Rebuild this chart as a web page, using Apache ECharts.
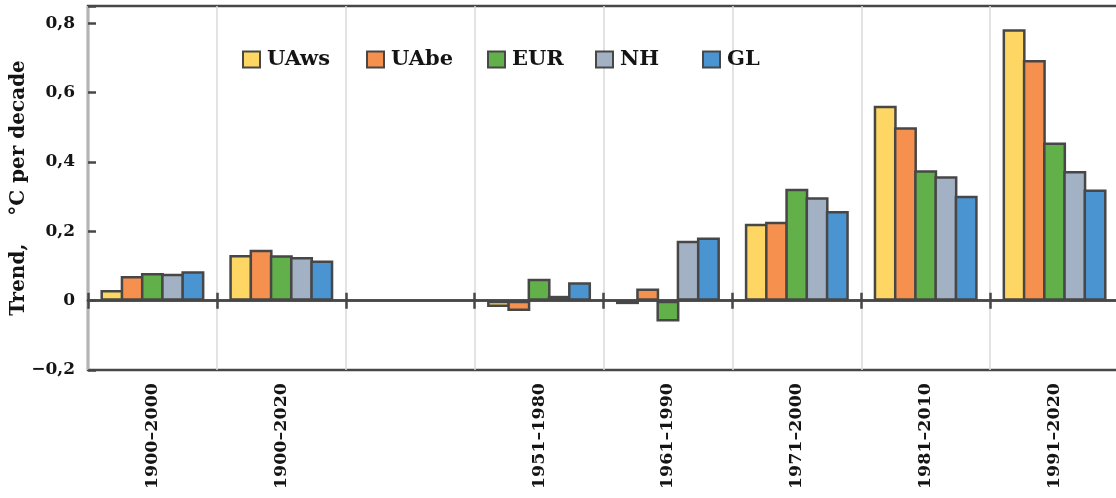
<!DOCTYPE html>
<html>
<head>
<meta charset="utf-8">
<script src="https://cdn.jsdelivr.net/npm/echarts@6/dist/echarts.min.js"></script>
<style>
html,body{margin:0;padding:0;background:#fff;}
#chart{width:1116px;height:498px;}
</style>
</head>
<body>
<div id="chart"></div>
<script>
const categories = ['1900–2000','1900–2020','','1951–1980','1961–1990','1971–2000','1981–2010','1991–2020'];
const seriesNames = ['UAws','UAbe','EUR','NH','GL'];
const UAws = [0.031, 0.132, null, -0.018, -0.010, 0.222, 0.562, 0.783];
const UAbe = [0.071, 0.147, null, -0.030, 0.035, 0.228, 0.500, 0.694];
const EUR  = [0.080, 0.131, null, 0.063, -0.060, 0.323, 0.376, 0.456];
const NH   = [0.078, 0.126, null, 0.014, 0.173, 0.298, 0.359, 0.374];
const GL   = [0.085, 0.116, null, 0.053, 0.182, 0.259, 0.303, 0.321];
const yTicks = [-0.2, 0, 0.2, 0.4, 0.6, 0.8];
const colors = ['#FDD663','#F6904F','#62B04A','#A2B2C4','#4A94D1'];
const legendLeft = [237, 361, 482, 590, 697];

const FONT = 'DejaVu Serif';
const DARK = '#474747';
const values = [UAws, UAbe, EUR, NH, GL];

function fmtY(v) {
  const hit = yTicks.find(t => Math.abs(t - v) < 1e-6);
  if (hit === undefined) return '';
  if (hit === 0) return '0';
  return hit.toFixed(1).replace('.', ',').replace('-', '\u2212');
}

const gridRect = {left: 88, right: -3, top: 6, bottom: 128, outerBoundsMode: 'none', containLabel: false};

const option = {
  animation: false,
  backgroundColor: '#fff',
  grid: [
    Object.assign({show: true, borderColor: DARK, borderWidth: 2.5, backgroundColor: 'transparent'}, gridRect),
    Object.assign({show: false}, gridRect)
  ],
  legend: seriesNames.map((n, i) => ({
    data: [n],
    left: legendLeft[i],
    top: 44,
    icon: 'rect',
    itemWidth: 17,
    itemHeight: 16,
    textStyle: {fontFamily: FONT, fontWeight: 'bold', fontSize: 21, color: '#141414', padding: [0, 0, 0, 2]},
    selectedMode: false
  })),
  xAxis: [
    {
      type: 'category', gridIndex: 0, data: categories, position: 'bottom',
      axisLine: {show: false, onZero: false},
      axisTick: {show: false},
      axisLabel: {rotate: 90, interval: 0, margin: 13, fontFamily: FONT, fontWeight: 'bold', fontSize: 17.5, color: '#141414'},
      splitLine: {show: true, interval: 0, lineStyle: {color: '#dadada', width: 1.5}}
    },
    {
      type: 'category', gridIndex: 0, data: categories, position: 'top',
      axisLine: {show: true, onZero: true, lineStyle: {color: DARK, width: 2.5}},
      axisTick: {show: true, interval: 0, length: 8, lineStyle: {color: DARK, width: 2.5}},
      axisLabel: {show: false},
      splitLine: {show: false}
    },
    {
      type: 'category', gridIndex: 1, data: categories, position: 'bottom',
      axisLine: {show: true, onZero: true, lineStyle: {color: DARK, width: 2.5}},
      axisTick: {show: true, interval: 0, length: 8, lineStyle: {color: DARK, width: 2.5}},
      axisLabel: {show: false},
      splitLine: {show: false}
    }
  ],
  yAxis: [
    {
      type: 'value', gridIndex: 0, min: -0.2, max: 0.85, interval: 0.2,
      name: 'Trend,    °C per decade', nameLocation: 'middle', nameGap: 59, nameMoveOverlap: false,
      nameTextStyle: {fontFamily: FONT, fontWeight: 'bold', fontSize: 20, color: '#141414'},
      axisLine: {show: false},
      axisTick: {show: true, inside: true, length: 8, lineStyle: {color: DARK, width: 2.5}},
      axisLabel: {formatter: fmtY, margin: 13, fontFamily: FONT, fontWeight: 'bold', fontSize: 17, color: '#141414'},
      splitLine: {show: false}
    },
    {
      type: 'value', gridIndex: 1, min: -0.2, max: 0.85, interval: 0.2,
      show: false
    }
  ],
  series: seriesNames.map((n, i) => ({
    name: n,
    type: 'bar',
    xAxisIndex: 0,
    yAxisIndex: 0,
    data: values[i],
    barWidth: 23,
    barGap: '-12%',
    itemStyle: {color: colors[i], borderColor: DARK, borderWidth: 2.5},
    emphasis: {disabled: true}
  }))
};

const chart = echarts.init(document.getElementById('chart'), null, {renderer: 'canvas'});
chart.setOption(option);
</script>
</body>
</html>
